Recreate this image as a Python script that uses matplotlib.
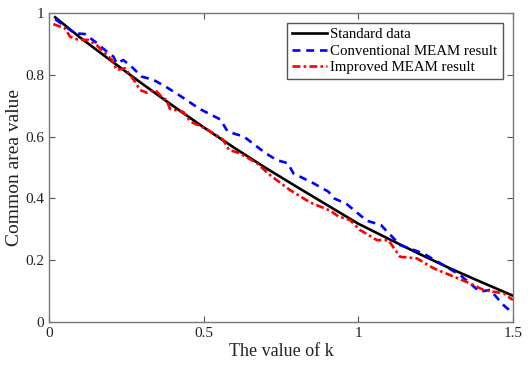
import matplotlib
matplotlib.use("Agg")
import matplotlib.pyplot as plt
from matplotlib.ticker import FuncFormatter

plt.rcParams['font.family'] = ['Liberation Serif', 'DejaVu Serif']

# Standard data
k_std = [0.02, 0.1, 0.2, 0.3, 0.4, 0.5, 0.6, 0.7, 0.8, 0.9, 1.0, 1.1, 1.2, 1.3, 1.4, 1.5]
v_std = [0.986, 0.921, 0.846, 0.772, 0.700, 0.630, 0.563, 0.499, 0.438, 0.378, 0.318, 0.268, 0.219, 0.172, 0.128, 0.085]

# Conventional MEAM result
k_conv = [0.02, 0.084, 0.116, 0.149, 0.181, 0.208, 0.219, 0.240, 0.267, 0.300, 0.337, 0.375,
          0.424, 0.488, 0.553, 0.578, 0.630, 0.698, 0.736, 0.772, 0.790, 0.855, 0.903, 0.922,
          0.962, 1.027, 1.073, 1.135, 1.210, 1.275, 1.329, 1.393, 1.426, 1.469, 1.5]
v_conv = [0.980, 0.934, 0.932, 0.907, 0.880, 0.859, 0.837, 0.848, 0.826, 0.794, 0.784, 0.763,
          0.732, 0.689, 0.656, 0.616, 0.600, 0.548, 0.524, 0.514, 0.481, 0.449, 0.422, 0.400,
          0.382, 0.328, 0.314, 0.249, 0.222, 0.184, 0.152, 0.098, 0.104, 0.055, 0.028]

# Improved MEAM result
k_imp = [0.014, 0.052, 0.068, 0.095, 0.127, 0.154, 0.203, 0.219, 0.246, 0.278, 0.294, 0.316,
         0.343, 0.364, 0.380, 0.391, 0.434, 0.458, 0.510, 0.561, 0.582, 0.617, 0.672, 0.714,
         0.779, 0.844, 0.910, 0.935, 0.973, 1.005, 1.060, 1.097, 1.135, 1.189, 1.243, 1.296,
         1.361, 1.404, 1.436, 1.469, 1.5]
v_imp = [0.964, 0.950, 0.923, 0.913, 0.913, 0.896, 0.848, 0.816, 0.821, 0.778, 0.751, 0.742,
         0.751, 0.729, 0.718, 0.690, 0.680, 0.648, 0.624, 0.592, 0.557, 0.546, 0.514, 0.476,
         0.427, 0.387, 0.360, 0.342, 0.330, 0.298, 0.265, 0.265, 0.211, 0.206, 0.174, 0.152,
         0.125, 0.104, 0.098, 0.093, 0.071]

x_ticks = [0, 0.5, 1, 1.5]
y_ticks = [0, 0.2, 0.4, 0.6, 0.8, 1.0]

fig = plt.figure(figsize=(5.28, 3.69), dpi=100)
ax = fig.add_axes([49/528, 1 - 322/369, (513-49)/528, (322-13)/369])

ax.plot(k_std, v_std, color='black', lw=1.9, label='Standard data')
ax.plot(k_conv, v_conv, color='#0000ff', lw=1.9, linestyle=(0, (3, 2.2)), label='Conventional MEAM result')
ax.plot(k_imp, v_imp, color='#ff0000', lw=1.9, linestyle=(0, (3, 1.2, 1, 1.2)), label='Improved MEAM result')

ax.set_xlim(0, 1.5)
ax.set_ylim(0, 1)
ax.set_xticks(x_ticks)
ax.set_yticks(y_ticks)
fmt = FuncFormatter(lambda v, p: ('%g' % v))
ax.xaxis.set_major_formatter(fmt)
ax.yaxis.set_major_formatter(fmt)
ax.tick_params(direction='in', top=True, right=True, length=4, width=0.8,
               colors='#555555', labelcolor='#222222', labelsize=11)
for s in ax.spines.values():
    s.set_color('#777777')
    s.set_linewidth(1.0)

ax.set_xlabel('The value of k', fontsize=13, color='#222222', labelpad=2)
ax.set_ylabel('Common area value', fontsize=14, color='#222222')
ax.yaxis.set_label_coords(-0.056, 0.5)

leg = ax.legend(loc='upper right', bbox_to_anchor=(0.978, 0.968), fontsize=10.7,
                frameon=True, fancybox=False, edgecolor='#555555', framealpha=1,
                handlelength=2.4, handletextpad=0.2, borderpad=0.35, labelspacing=0.2,
                borderaxespad=0)
leg.get_frame().set_linewidth(1.0)

fig.savefig('out.png', dpi=100)
